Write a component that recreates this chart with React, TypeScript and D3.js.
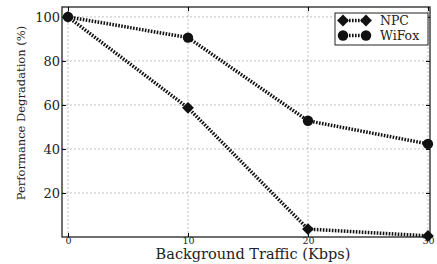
import { useEffect, useRef } from "react";
import * as d3 from "d3";

const traffic = [0, 10, 20, 30];
const npc = [100, 58.7, 3.6, 0.5];
const wifox = [100, 90.6, 52.8, 42.3];
const yTicks = [20, 40, 60, 80, 100];

const App = () => {
  const ref = useRef<SVGSVGElement | null>(null);

  useEffect(() => {
    if (!ref.current) return;
    const svg = d3.select(ref.current);
    svg.selectAll("*").remove();

    const width = 437;
    const height = 264;
    const m = { top: 7, right: 7, bottom: 27, left: 62 };
    const font = "DejaVu Serif";

    const x = d3.scaleLinear().domain([-0.5, 30.17]).range([m.left, width - m.right]);
    const y = d3.scaleLinear().domain([0, 104.5]).range([height - m.bottom, m.top]);

    // Grid
    const grid = svg.append("g").attr("stroke", "#b0b0b0").attr("stroke-width", 0.8).attr("stroke-dasharray", "2,2");
    grid.selectAll("line.v").data(traffic).join("line")
      .attr("x1", (d) => x(d)).attr("x2", (d) => x(d))
      .attr("y1", m.top).attr("y2", height - m.bottom);
    grid.selectAll("line.h").data(yTicks).join("line")
      .attr("class", "h")
      .attr("x1", m.left).attr("x2", width - m.right)
      .attr("y1", (d) => y(d)).attr("y2", (d) => y(d));

    // Frame
    svg.append("rect")
      .attr("x", m.left).attr("y", m.top)
      .attr("width", width - m.left - m.right)
      .attr("height", height - m.top - m.bottom)
      .attr("fill", "none").attr("stroke", "#222").attr("stroke-width", 1.3);

    // Axes
    svg.append("g")
      .attr("transform", `translate(0,${height - m.bottom})`)
      .call(d3.axisBottom(x).tickValues(traffic).tickSizeInner(-4).tickSizeOuter(0).tickPadding(0))
      .call((g) => g.select(".domain").remove())
      .attr("font-family", font).attr("font-size", 9.5)
      .selectAll("text").attr("fill", "#222");
    svg.append("g")
      .attr("transform", `translate(${m.left},0)`)
      .call(d3.axisLeft(y).tickValues(yTicks).tickSizeInner(-4).tickSizeOuter(0).tickPadding(2))
      .call((g) => g.select(".domain").remove())
      .attr("font-family", font).attr("font-size", 13)
      .selectAll("text").attr("fill", "#222");
    svg.append("g")
      .attr("transform", `translate(${width - m.right},0)`)
      .call(d3.axisRight(y).tickValues(yTicks).tickSizeInner(-4).tickSizeOuter(0).tickFormat(() => ""))
      .call((g) => g.select(".domain").remove());
    svg.append("g")
      .attr("transform", `translate(0,${m.top})`)
      .call(d3.axisTop(x).tickValues(traffic).tickSizeInner(-4).tickSizeOuter(0).tickFormat(() => ""))
      .call((g) => g.select(".domain").remove());

    // Labels
    svg.append("text")
      .attr("x", 253).attr("y", 259)
      .attr("text-anchor", "middle")
      .attr("font-family", font).attr("font-size", 14.5).attr("fill", "#222")
      .text("Background Traffic (Kbps)");
    svg.append("text")
      .attr("transform", `translate(25,113) rotate(-90)`)
      .attr("text-anchor", "middle")
      .attr("font-family", font).attr("font-size", 11.5).attr("fill", "#222")
      .text("Performance Degradation (%)");

    // Series
    const diamond = (d3.symbol().type(d3.symbolSquare).size(70)() as string);
    const circle = (d3.symbol().type(d3.symbolCircle).size(85)() as string);
    const series = [
      { name: "NPC", values: npc, shape: diamond, rot: 45 },
      { name: "WiFox", values: wifox, shape: circle, rot: 0 },
    ];
    const line = d3.line<number>().x((_, i) => x(traffic[i])).y((d) => y(d));
    series.forEach((s) => {
      svg.append("path")
        .attr("d", line(s.values))
        .attr("fill", "none").attr("stroke", "#111")
        .attr("stroke-width", 3.5).attr("stroke-dasharray", "1.6,1.4");
      svg.append("g").selectAll("path").data(s.values).join("path")
        .attr("transform", (d, i) => `translate(${x(traffic[i])},${y(d)}) rotate(${s.rot})`)
        .attr("d", s.shape)
        .attr("fill", "#111");
    });

    // Legend
    const lg = svg.append("g");
    lg.append("rect")
      .attr("x", 335).attr("y", 13).attr("width", 93).attr("height", 32)
      .attr("fill", "white").attr("stroke", "#222").attr("stroke-width", 1);
    series.forEach((s, i) => {
      const ly = 20.5 + i * 15;
      lg.append("line")
        .attr("x1", 343).attr("x2", 366).attr("y1", ly).attr("y2", ly)
        .attr("stroke", "#111").attr("stroke-width", 3.5).attr("stroke-dasharray", "1.6,1.4");
      [343, 366].forEach((lx) => {
        lg.append("path")
          .attr("transform", `translate(${lx},${ly}) rotate(${s.rot})`)
          .attr("d", s.shape)
          .attr("fill", "#111");
      });
      lg.append("text")
        .attr("x", 380).attr("y", ly + 4.5)
        .attr("font-family", font).attr("font-size", 12.5).attr("fill", "#222")
        .text(s.name);
    });
  }, []);

  return (
    <svg
      ref={ref}
      width={437}
      height={264}
      style={{ position: "absolute", left: 0, top: 0, background: "white" }}
    />
  );
};

export default App;
